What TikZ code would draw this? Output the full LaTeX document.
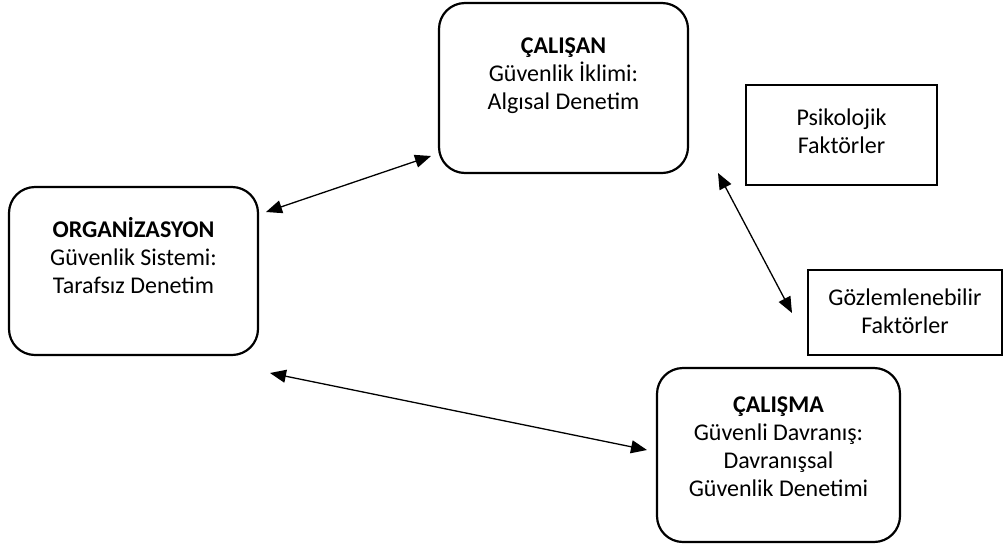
\documentclass[tikz,border=0pt]{standalone}
\usepackage{fontspec}
\setmainfont{Carlito}
\usetikzlibrary{arrows.meta}
\begin{document}
\begin{tikzpicture}[x=1pt,y=-1pt,
  roundbox/.style={draw, line width=2.2pt, rounded corners=26pt, inner sep=0pt},
  plainbox/.style={draw, line width=1.8pt, inner sep=0pt},
  boxtext/.style={align=center, inner sep=0pt, font=\fontsize{24}{28}\selectfont},
  link/.style={line width=1.3pt,
    {Triangle[length=16pt,width=13pt]}-{Triangle[length=16pt,width=13pt]}}]
\useasboundingbox (0,0) rectangle (1004,547);

% frames
\node[roundbox, minimum width=249pt, minimum height=168pt] (org) at (133.5,271) {};
\node[roundbox, minimum width=249pt, minimum height=170pt] (emp) at (563.5,88) {};
\node[roundbox, minimum width=243pt, minimum height=174pt] (work) at (778.5,455) {};
\node[plainbox, minimum width=191pt, minimum height=100pt] (psy) at (841.5,135) {};
\node[plainbox, minimum width=194pt, minimum height=85pt] (obs) at (905,312.5) {};

% texts
\node[boxtext] (orgtxt) at (133.5,256) {\textbf{ORGANİZASYON}\\Güvenlik Sistemi:\\Tarafsız Denetim};
\node[boxtext] (emptxt) at (563.5,76) {\textbf{ÇALIŞAN}\\Güvenlik İklimi:\\Algısal Denetim};
\node[boxtext] (worktxt) at (778.5,447) {\textbf{ÇALIŞMA}\\Güvenli Davranış:\\Davranışsal\\Güvenlik Denetimi};
\node[boxtext] (psytxt) at (841.5,131) {Psikolojik\\Faktörler};
\node[boxtext] (obstxt) at (905,311) {Gözlemlenebilir\\Faktörler};

% connector ends
\coordinate (orgA) at (266,212);
\coordinate (empA) at (431,156);
\coordinate (psyA) at (718,173);
\coordinate (obsA) at (792,313);
\coordinate (orgB) at (270,373);
\coordinate (workB) at (647,450);

\draw[link] (orgA) -- (empA);
\draw[link] (psyA) -- (obsA);
\draw[link] (orgB) -- (workB);
\end{tikzpicture}
\end{document}
